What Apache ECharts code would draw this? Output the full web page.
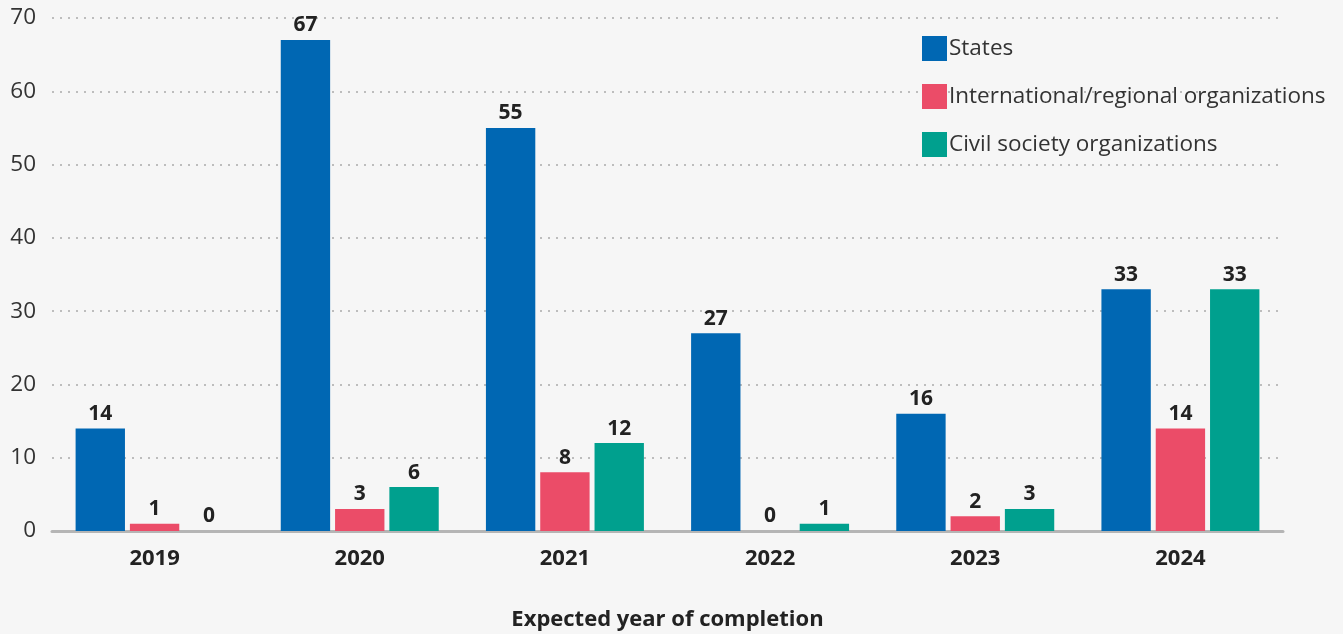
<!DOCTYPE html>
<html><head><meta charset="utf-8">
<script src="https://cdn.jsdelivr.net/npm/echarts@6/dist/echarts.min.js"></script>
<style>html,body{margin:0;padding:0;background:#f6f6f6;}#c{width:1343px;height:634px;}</style>
</head><body><div id="c"></div>
<script>
const categories = ['2019','2020','2021','2022','2023','2024'];
const seriesNames = ['States','International/regional organizations','Civil society organizations'];
const states = [14,67,55,27,16,33];
const intlOrgs = [1,3,8,0,2,14];
const civilSociety = [0,6,12,1,3,33];
const yTicks = [0,10,20,30,40,50,60,70];
const colors = ['#0067b3','#eb4c68','#00a08e'];

const font = '"Open Sans", Lato, sans-serif';
const chart = echarts.init(document.getElementById('c'));
const label = {show:true, position:'top', distance:4, color:'#222', fontFamily:font, fontWeight:'bold', fontSize:21};
chart.setOption({
  backgroundColor:'#f6f6f6',
  animation:false,
  color:colors,
  grid:{left:52, right:60, top:18, bottom:103, containLabel:false, outerBoundsMode:'none'},
  legend:{
    orient:'vertical', left:917, top:31, itemWidth:25, itemHeight:25, itemGap:23,
    icon:'rect', textStyle:{fontFamily:font, fontSize:22.5, color:'#333', padding:[0,0,0,-3]},
    data:seriesNames
  },
  xAxis:{
    type:'category', data:categories,
    axisLine:{lineStyle:{color:'#b5b5b5', width:3}},
    axisTick:{show:false},
    axisLabel:{fontFamily:font, fontWeight:'bold', fontSize:22, color:'#222', margin:17},
    name:'Expected year of completion', nameLocation:'middle', nameGap:78,
    nameTextStyle:{fontFamily:font, fontWeight:'bold', fontSize:22, color:'#222'}
  },
  yAxis:{
    type:'value', min:yTicks[0], max:yTicks[yTicks.length-1], interval:10,
    axisLine:{show:false}, axisTick:{show:false},
    axisLabel:{fontFamily:font, fontSize:22.5, color:'#333', margin:16},
    splitLine:{lineStyle:{color:'#bdbdbd', width:2, type:[2,6]}}
  },
  series:[
    {name:seriesNames[0], type:'bar', data:states, barGap:'10%', barCategoryGap:'23%', label},
    {name:seriesNames[1], type:'bar', data:intlOrgs, label},
    {name:seriesNames[2], type:'bar', data:civilSociety, label}
  ]
});
</script></body></html>
